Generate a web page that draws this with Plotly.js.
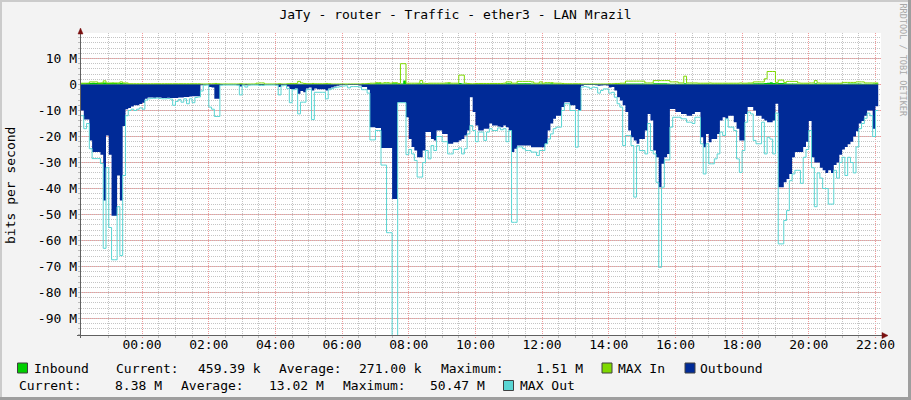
<!DOCTYPE html>
<html><head><meta charset="utf-8">
<script src="https://cdn.plot.ly/plotly-3.0.1.min.js"></script>
<style>html,body{margin:0;padding:0;background:#f3f3f3;}#chart{width:911px;height:400px;}</style>
</head><body><div id="chart"></div>
<script>
// ---- data (M bits per second, 5-minute RRD steps starting 22:10) ----
const startTime = Date.UTC(2024, 0, 1, 22, 10);
const stepMs = 300000;
const midnight = Date.UTC(2024, 0, 2, 0, 0);

const inbound = [
0.5,0.5,0.6,0.6,0.7,0.6,0.6,0.7,0.8,0.6,0.6,0.7,
0.6,0.5,0.6,0.5,0.4,0.2,0.2,0.2,0.2,0.2,0.2,0.2,
0.15,0.15,0.15,0.15,0.15,0.15,0.15,0.15,0.15,0.15,0.15,0.15,
0.15,0.15,0.15,0.15,0.15,0.15,0.15,0.1,0.1,0.1,0.1,0.1,
0.15,0.15,0.1,0.1,0.1,0.1,0.1,0.1,0.1,0.15,0.1,0.1,
0.1,0.1,0.1,0.15,0.2,0.2,0.1,0.1,0.1,0.1,0.1,0.15,
0.1,0.1,0.15,0.2,0.2,0.2,0.3,0.2,0.2,0.15,0.15,0.2,
0.15,0.15,0.15,0.15,0.2,0.15,0.1,0.1,0.1,0.1,0.1,0.1,
0.1,0.1,0.1,0.1,0.1,0.15,0.15,0.2,0.3,0.3,0.5,0.5,
0.3,0.4,0.4,0.3,0.5,0.5,0.2,0.4,1.51,0.3,0.3,0.3,
0.3,0.4,0.5,0.3,0.3,0.3,0.3,0.3,0.3,0.3,0.3,0.4,
0.5,0.3,0.3,0.3,0.6,0.4,0.3,0.3,0.2,0.2,0.3,0.3,
0.3,0.3,0.3,0.3,0.3,0.3,0.3,0.3,0.3,0.5,0.5,0.3,
0.3,0.5,0.5,0.5,0.5,0.5,0.4,0.3,0.3,0.4,0.3,0.4,
0.4,0.5,0.3,0.3,0.3,0.2,0.2,0.2,0.2,0.2,0.2,0.2,
0.1,0.1,0.1,0.1,0.1,0.1,0.1,0.1,0.1,0.1,0.15,0.2,
0.2,0.2,0.3,0.3,0.4,0.4,0.4,0.4,0.4,0.4,0.4,0.3,
0.3,0.3,0.5,0.5,0.5,0.5,0.5,0.4,0.3,0.3,0.3,0.3,
0.3,0.5,0.3,0.3,0.3,0.3,0.3,0.3,0.3,0.3,0.3,0.3,
0.3,0.3,0.3,0.3,0.3,0.3,0.3,0.3,0.3,0.3,0.3,0.3,
0.4,0.4,0.5,0.5,0.5,0.5,0.6,0.7,0.9,0.6,0.5,0.6,
0.6,0.5,0.4,0.4,0.4,0.4,0.3,0.3,0.3,0.3,0.3,0.3,
0.5,0.3,0.3,0.3,0.3,0.3,0.3,0.3,0.3,0.3,0.3,0.3,
0.4,0.4,0.4,0.4,0.4,0.3,0.3,0.3,0.3,0.4,0.46];

const maxIn = [
0.5,0.5,0.5,1.0,1.0,1.0,0.6,0.6,1.4,0.6,0.6,0.6,
0.6,0.6,1.0,0.6,0.6,0.3,0.3,0.3,0.3,0.3,0.3,0.3,
0.3,0.3,0.3,0.3,0.3,0.3,0.3,0.3,0.3,0.3,0.3,0.3,
0.3,0.3,0.3,0.3,0.3,0.3,0.3,0.2,0.2,0.2,0.3,0.3,
0.4,0.3,0.2,0.2,0.2,0.2,0.2,0.2,0.2,0.3,0.2,0.2,
0.2,0.2,0.2,0.5,0.6,0.6,0.2,0.2,0.2,0.2,0.2,0.3,
0.2,0.2,0.3,0.4,0.4,0.4,1.2,0.6,0.4,0.3,0.3,0.4,
0.3,0.3,0.3,0.3,0.4,0.3,0.2,0.2,0.2,0.2,0.2,0.2,
0.2,0.2,0.2,0.2,0.2,0.3,0.3,0.4,0.5,0.5,0.7,0.7,
0.5,0.7,0.7,0.5,0.7,0.7,0.4,8.0,8.0,0.5,0.5,0.5,
0.5,0.5,1.5,0.5,0.4,0.5,0.5,0.5,0.5,0.5,0.5,0.6,
0.7,0.5,0.5,0.5,3.6,3.6,0.5,0.4,0.3,0.3,0.4,0.4,
0.4,0.4,0.4,0.4,0.4,0.4,0.4,0.4,0.5,1.0,1.0,0.5,
0.5,1.2,1.2,1.2,1.2,1.2,1.0,0.5,0.5,1.0,0.5,0.7,
0.7,0.7,0.5,0.5,0.5,0.4,0.3,0.3,0.3,0.3,0.3,0.3,
0.2,0.2,0.2,0.2,0.2,0.2,0.2,0.2,0.2,0.2,0.3,0.3,
0.4,0.4,0.5,0.5,1.3,1.3,1.3,1.3,1.3,1.3,1.3,0.6,
0.6,0.6,1.5,1.5,1.5,1.5,1.5,1.5,1.0,1.0,1.0,0.6,
0.6,3.2,0.6,0.6,0.6,0.6,0.5,0.5,0.5,0.5,0.6,0.5,
0.5,0.5,0.5,0.5,0.5,0.5,0.5,0.5,0.5,0.6,0.5,0.5,
0.6,0.6,1.0,1.0,1.0,1.0,2.2,5.0,5.0,5.0,0.8,1.7,
1.7,0.8,1.2,1.2,1.2,1.2,0.6,0.5,0.5,0.5,0.6,0.6,
1.5,0.6,0.5,0.5,0.5,0.5,0.5,0.5,0.5,0.5,0.8,0.8,
0.8,0.8,0.8,1.0,1.0,1.0,0.6,0.6,0.6,0.6,0.6];

const outbound = [
-10,-13.5,-13.5,-21.5,-26,-26,-26,-27,-44.6,-19.6,-27,-50.5,
-50.5,-35,-44.6,-16,-9.5,-9,-8.5,-8,-8,-7.5,-7,-5.5,
-5,-5,-5.1,-5,-5,-5.2,-5.2,-5.1,-5.2,-5.2,-5.2,-5,
-5,-4.8,-4.8,-4.6,-4.5,-4.5,-4.5,-0.3,-0.05,-0.1,-1,-1.2,
-5.5,-5.5,-0.2,-0.1,-0.1,-0.1,-0.1,-0.1,-0.2,-0.8,-0.1,-0.3,
-0.1,-0.1,-0.1,-0.1,-0.2,-0.2,-0.1,-0.1,-0.1,-0.1,-0.2,-1,
-0.3,-0.2,-0.8,-1.7,-1.7,-1.5,-3.6,-2.5,-3,-1.5,-1.2,-2.3,
-1.5,-1.8,-1.8,-1.8,-2.3,-1.5,-1.2,-0.8,-0.5,-0.3,-0.2,-0.1,
-0.2,-0.2,-0.2,-0.2,-0.4,-1,-1,-2,-16.4,-16.4,-16.7,-16.7,
-24.4,-24.4,-24.4,-24.4,-44,-44,-6.8,-6.8,-6.8,-12.6,-21,-24,
-25.4,-28,-28,-25.4,-18.3,-18.3,-21,-21.5,-17.7,-17.7,-19,-19,
-22.8,-22.8,-22.2,-22.2,-21.5,-21,-19.6,-17.7,-4.9,-10.6,-15.8,-17.7,
-17.7,-17,-17,-15,-15.8,-15.8,-16.2,-16.4,-15.8,-16.4,-17.7,-26,
-24.7,-23.5,-23.5,-23.5,-23.5,-23.5,-24.1,-24.1,-24.1,-24.1,-24.1,-22.8,
-17.7,-15,-13.2,-12,-12,-8.7,-6.8,-6.8,-8,-8,-9.4,-10,
-0.5,-0.2,-0.2,-0.2,-0.2,-0.3,-0.5,-0.4,-0.3,-0.4,-1.2,-1,
-2.3,-4.9,-6.2,-8,-10.6,-17.7,-20.3,-21.5,-22.8,-21,-21,-17.7,
-11.3,-13.8,-25.4,-28,-39.5,-30.5,-28,-26.7,-9.4,-9.4,-10.6,-10.6,
-11.3,-11.3,-12,-12,-11.3,-10.6,-10.6,-20.3,-24.1,-19,-22.2,-21,
-21,-19,-13.8,-12.6,-13.2,-12,-12,-14.5,-17,-21.5,-21.5,-11.3,
-8.7,-8.7,-10,-12,-12,-13.2,-13.8,-14.5,-14.5,-13.8,-7.4,-39.5,
-39.5,-37.6,-36.3,-34.4,-28,-26,-26,-26,-24,-22,-14,-28,
-30,-30,-32,-33,-34,-33,-34,-31,-30,-27,-25,-24,
-23,-22,-20,-18,-15,-14,-12,-10,-10,-17,-8.4];

const maxOut = [
-12,-17,-15,-24.7,-28.5,-28.5,-28.5,-30.4,-63,-32,-55,-67.4,
-67.4,-47,-65.8,-35,-12,-10,-9.5,-10,-9.5,-9,-9.5,-6,
-5.5,-5.3,-5.3,-5.2,-5.4,-5.5,-5.5,-5.4,-5.6,-8,-6.5,-5.8,
-6.8,-5.5,-7.4,-5.5,-7,-5,-4.8,-2.5,-0.3,-0.2,-8.7,-9.5,
-12.3,-12.3,-0.3,-0.2,-0.2,-0.2,-0.2,-0.2,-0.3,-4,-0.3,-1,
-0.3,-0.2,-0.2,-0.2,-0.4,-0.4,-0.2,-0.2,-0.2,-0.2,-0.3,-4,
-0.5,-0.3,-1.5,-7,-2,-1.8,-11.3,-6.8,-6.8,-2,-1.8,-13.5,
-3,-3,-3,-3,-5.5,-2,-1.6,-1.2,-1,-0.8,-0.6,-0.5,
-1.3,-0.8,-0.8,-0.8,-1,-2,-2,-3.3,-21.3,-21.3,-17.7,-17.7,
-31,-31,-57,-57,-97,-97,-7,-7,-7,-27,-25,-26.7,
-29.2,-35.6,-35.6,-30,-25.4,-28.6,-23.5,-25.4,-20,-20,-22,-22,
-26.7,-26.7,-25,-25,-24.4,-26.7,-24.7,-19,-15.8,-17.7,-22,-18.3,
-18.3,-21.5,-18.3,-17,-17.7,-17.7,-16.7,-17.4,-17,-22,-17.7,-53,
-53,-24,-24,-24.7,-25.4,-25.4,-26,-26,-27.3,-25.4,-25.4,-22.8,
-21,-19,-17,-16.4,-16.4,-10,-7.4,-7.4,-10,-10,-24.1,-10,
-1,-0.8,-1,-1.5,-1,-1.2,-3.3,-2.3,-1.7,-1.7,-3.3,-3,
-4.9,-7.4,-8.7,-23.5,-19.6,-19.6,-23.5,-43.3,-23.5,-25.4,-25.4,-26.7,
-15,-25.4,-26.7,-37.6,-70.3,-39.5,-29,-29,-16.4,-12.6,-12.6,-12.6,
-13.2,-13.2,-14.5,-14.5,-15,-12.6,-12.6,-22.8,-34.4,-22.8,-30.5,-30.5,
-28.6,-26.7,-18.3,-19.6,-13.2,-16.4,-16.4,-17.7,-28.6,-33.8,-25.4,-14.5,
-10.6,-11.3,-21.5,-22.8,-22.8,-14.5,-26.7,-20.3,-21,-26.7,-11,-61.3,
-61.3,-52.3,-48.5,-37,-34.4,-33,-33,-38,-28,-25,-17.7,-32,
-47,-34,-36,-40,-40,-46,-46,-33,-36,-30,-28,-35,
-28,-30,-34,-24,-17,-15,-13,-11,-12,-20,-10];

const yTickVals = [10, 0, -10, -20, -30, -40, -50, -60, -70, -80, -90];
const yTickText = ['10 M', '0', '-10 M', '-20 M', '-30 M', '-40 M', '-50 M', '-60 M', '-70 M', '-80 M', '-90 M'];
const xTickHours = [0, 2, 4, 6, 8, 10, 12, 14, 16, 18, 20, 22];

const titleText = 'JaTy - router - Traffic - ether3 - LAN Mrazil';
const yTitle = 'bits per second';
const seriesNames = ['Inbound', 'MAX In', 'Outbound', 'MAX Out'];
const inboundStats = ['Current:', '459.39 k', 'Average:', '271.00 k', 'Maximum:', '1.51 M'];
const outboundStats = ['Current:', '8.38 M', 'Average:', '13.02 M', 'Maximum:', '50.47 M'];
const watermark = 'RRDTOOL / TOBI OETIKER';

// ---- build ----
const dstr = ms => new Date(ms).toISOString().slice(0, 23).replace('T', ' ');
const times = outbound.map((_, i) => dstr(startTime + i * stepMs));
times.push(dstr(startTime + outbound.length * stepMs));
const ext = a => a.concat([a[a.length - 1]]);

const FONT = 'DejaVu Sans Mono, monospace';
const C_IN = '#00CF00', C_MAXIN = '#7FD900', C_OUT = '#002A97', C_MAXOUT = '#5AD5D3';

// pixel -> paper helpers (plot area x 81..881, y 33..335)
const L = 81, R = 881, T = 33, B = 335;
const SPAN = 24 * 3600000;
const px = x => (x - L) / (R - L);
const py = y => (B - y) / (B - T);
// nudge a time so that its grid line falls on a pixel centre (crisp 1px dotted line)
const crispTime = t => {
  const p = L + (t - startTime) / SPAN * (R - L);
  const pc = Math.floor(p) + 0.5;
  return startTime + (pc - L) / (R - L) * SPAN;
};

const majorGrid = '#f09a9a';
const minorGrid = '#c4c4c4';
const tfont = {family: FONT, size: 13, color: '#000'};

// half-hour minor grid positions, leaving the even hours to the red major grid
const xMinor = [];
for (let t = midnight - 3600000; t <= startTime + SPAN; t += 1800000) {
  if (t > startTime && (t - midnight) % 7200000 !== 0) xMinor.push(dstr(t));
}

const shapes = [];
// major (red, dotted) grid on the axes' own scales, below the data
xTickHours.forEach(h => {
  const t = dstr(crispTime(midnight + h * 3600000));
  shapes.push({type: 'line', xref: 'x', yref: 'paper', x0: t, x1: t,
    y0: -3 / (B - T), y1: 1, line: {color: majorGrid, width: 1, dash: '1px,1px'}, layer: 'below'});
});
yTickVals.forEach(v => shapes.push({type: 'line', xref: 'paper', yref: 'y', x0: -3 / (R - L), x1: 1, y0: v, y1: v,
  line: {color: majorGrid, width: 1, dash: '1px,1px'}, layer: 'below'}));

const traces = [
  {x: times, y: ext(inbound), type: 'scatter', mode: 'lines', line: {shape: 'hv', width: 0, color: C_IN}, fill: 'tozeroy', fillcolor: C_IN, hoverinfo: 'skip'},
  {x: times, y: ext(maxIn), type: 'scatter', mode: 'lines', line: {shape: 'hv', width: 1, color: C_MAXIN}, hoverinfo: 'skip'},
  {x: times, y: ext(outbound), type: 'scatter', mode: 'lines', line: {shape: 'hv', width: 0, color: C_OUT}, fill: 'tozeroy', fillcolor: C_OUT, hoverinfo: 'skip'},
  {x: times, y: ext(maxOut), type: 'scatter', mode: 'lines', line: {shape: 'hv', width: 1, color: C_MAXOUT}, hoverinfo: 'skip'}
];

const ann = [];
function txt(t, x, y, opts) {
  ann.push(Object.assign({text: t, x: px(x), y: py(y), xref: 'paper', yref: 'paper', showarrow: false,
    xanchor: 'left', yanchor: 'middle', font: tfont, borderpad: 0, borderwidth: 0}, opts || {}));
}
txt(yTitle, 10.5, 185.5, {textangle: -90, xanchor: 'center'});
txt(watermark, 902.5, 60, {textangle: 90, xanchor: 'center', font: {family: FONT, size: 8.5, color: '#a8a8a8'}});
// legend line 1
txt(seriesNames[0], 33.5, 368);
const l1x = [116, 198, 279, 359, 441, 536];
inboundStats.forEach((s, i) => txt(s, l1x[i], 368));
txt(seriesNames[1], 618, 368);
txt(seriesNames[2], 700, 368);
// legend line 2
const l2x = [19, 114.5, 181, 268.5, 343, 430];
outboundStats.forEach((s, i) => txt(s, l2x[i], 385.5));
txt(seriesNames[3], 520, 385.5);

function rectPx(x0, y0, x1, y1, fill, line) {
  shapes.push({type: 'rect', xref: 'paper', yref: 'paper', x0: px(x0), x1: px(x1), y0: py(y0), y1: py(y1),
    fillcolor: fill, line: line ? {color: line, width: 1} : {width: 0}, layer: 'above'});
}
function linePx(x0, y0, x1, y1, color) {
  shapes.push({type: 'line', xref: 'paper', yref: 'paper', x0: px(x0), x1: px(x1), y0: py(y0), y1: py(y1),
    line: {color: color, width: 1}, layer: 'above'});
}
function pathPx(pts, color) {
  const d = pts.map((p, i) => (i ? 'L' : 'M') + px(p[0]) + ',' + py(p[1])).join(' ') + ' Z';
  shapes.push({type: 'path', xref: 'paper', yref: 'paper', path: d, fillcolor: color, line: {color: color, width: 0.5}, layer: 'above'});
}
// legend boxes
rectPx(17.5, 363, 27.5, 373, C_IN, '#404040');
rectPx(602, 363, 612, 373, C_MAXIN, '#404040');
rectPx(685, 363, 695, 373, C_OUT, '#404040');
rectPx(503.5, 380.5, 513.5, 390.5, C_MAXOUT, '#404040');
// frame shading
rectPx(0, 0, 2, 400, '#cbcbcb');
rectPx(0, 0, 911, 2, '#cbcbcb');
rectPx(908, 0, 911, 400, '#9e9e9e');
rectPx(0, 397, 911, 400, '#9e9e9e');
// axis lines + arrows
linePx(80.5, 30, 80.5, 338, '#606060');
linePx(77, 335.5, 884, 335.5, '#606060');
pathPx([[78, 34], [83, 34], [80.5, 28]], '#7a1010');
pathPx([[882, 332.5], [882, 338.5], [888, 335.5]], '#7a1010');

const layout = {
  width: 911, height: 400,
  margin: {l: L, r: 911 - R, t: T, b: 400 - B, pad: 0},
  paper_bgcolor: '#f3f3f3', plot_bgcolor: '#ffffff',
  showlegend: false,
  title: {text: titleText, font: tfont, x: 0.5, xref: 'container', xanchor: 'center', y: 1 - 14 / 400, yref: 'container', yanchor: 'middle'},
  xaxis: {
    type: 'date', range: [dstr(startTime), dstr(startTime + SPAN)],
    tickmode: 'linear', tick0: dstr(midnight), dtick: 7200000, tickformat: '%H:%M',
    showgrid: false,
    minor: {tickmode: 'array', tickvals: xMinor, showgrid: true, gridcolor: minorGrid, griddash: '1px,1px', gridwidth: 1, ticks: 'outside', ticklen: 2, tickcolor: '#bbbbbb'},
    ticks: '', tickfont: tfont, ticklabelstandoff: 0,
    showline: false, zeroline: false, fixedrange: true
  },
  yaxis: {
    range: [-250.5 / 2.6, 51.5 / 2.6],
    tickmode: 'array', tickvals: yTickVals, ticktext: yTickText,
    showgrid: false,
    minor: {tickmode: 'linear', tick0: 0, dtick: 2, showgrid: true, gridcolor: minorGrid, griddash: '1px,1px', gridwidth: 1, ticks: 'outside', ticklen: 2, tickcolor: '#bbbbbb'},
    ticks: '', tickfont: tfont, ticklabelstandoff: 3,
    showline: false, zeroline: false, fixedrange: true
  },
  annotations: ann,
  shapes: shapes
};

Plotly.newPlot('chart', traces, layout, {staticPlot: true, displayModeBar: false});
</script>
</body></html>
